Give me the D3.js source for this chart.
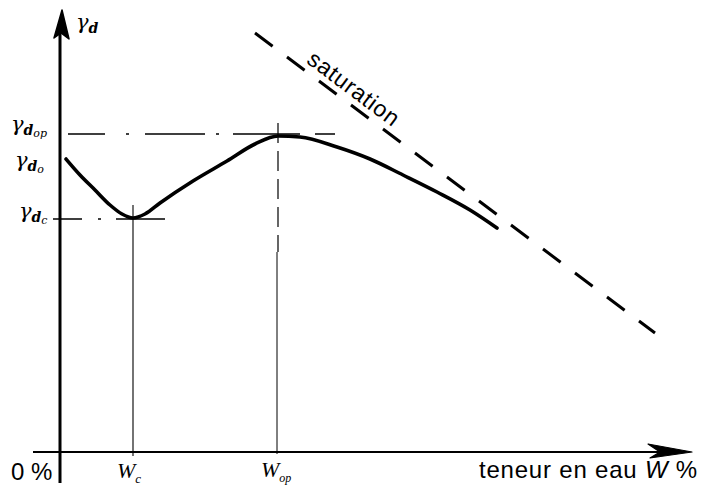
<!DOCTYPE html>
<html>
<head>
<meta charset="utf-8">
<script src="https://cdn.jsdelivr.net/npm/d3@7"></script>
<style>
  html, body { margin: 0; padding: 0; background: #fff; }
  svg { display: block; }
  .sans { font-family: "Liberation Sans", Arial, sans-serif; }
  .greek { font-family: "DejaVu Serif", "Liberation Serif", serif; font-style: italic; }
  .wlab { font-family: "Liberation Serif", serif; font-style: italic; }
</style>
</head>
<body>
<svg id="chart" width="702" height="486"></svg>
<script>
// Compaction curve: dry unit weight vs. water content (arbitrary units)
const waterContent = [1.2, 4.0, 7.0, 10.0, 12.4, 14.6, 17.0, 20.0, 26.6, 33.4, 39.0, 43.6, 48.0, 55.4, 62.0, 68.6, 75.4, 82.0, 87.4];
const dryWeight    = [58.6, 55.4, 52.4, 49.4, 47.6, 46.8, 47.6, 49.8, 54.2, 58.2, 61.6, 63.2, 63.0, 61.0, 58.6, 55.4, 52.0, 48.4, 44.8];

// Saturation line end points
const saturationW = [39.0, 119.0];
const saturationG = [83.8, 23.8];

// Characteristic values
const W_c = 14.6;        // water content at the minimum
const W_op = 43.4;       // optimum water content
const gamma_dc = 46.6;   // dry weight at the minimum
const gamma_dop = 63.6;  // maximum dry weight
const gamma_d0 = 58.6;   // dry weight of the dry soil

const svg = d3.select("#chart");
const x = d3.scaleLinear().domain([0, 126]).range([60, 690]);
const y = d3.scaleLinear().domain([0, 88]).range([452, 12]);

const x0 = x(0), y0 = y(0);

// Axes
svg.append("line").attr("x1", x0).attr("x2", x0).attr("y1", 30).attr("y2", 483)
  .attr("stroke", "#000").attr("stroke-width", 3);
svg.append("line").attr("x1", 33).attr("x2", 680).attr("y1", y0).attr("y2", y0)
  .attr("stroke", "#000").attr("stroke-width", 2);
// Arrow heads
svg.append("path")
  .attr("d", `M${x0+2},10 L${x0+9},39 L${x0+1},33 L${x0-6},38 Z`)
  .attr("fill", "#000").attr("stroke", "#000").attr("stroke-width", 1.5).attr("stroke-linejoin", "round");
svg.append("path")
  .attr("d", `M692,${y0} L648,${y0-8} L660,${y0} L650,${y0+6} Z`)
  .attr("fill", "#000").attr("stroke", "#000").attr("stroke-width", 1.2).attr("stroke-linejoin", "round");

// Guide lines
const guide = svg.append("g").attr("stroke", "#000").attr("fill", "none");
guide.append("line")
  .attr("x1", x0 + 8).attr("x2", 335).attr("y1", y(gamma_dop)).attr("y2", y(gamma_dop))
  .attr("stroke-width", 1.3).attr("stroke-dasharray", "37,21,3,16,60,11,3,14,67,15,20");
guide.append("line")
  .attr("x1", x0 - 7).attr("x2", x(W_c) + 32).attr("y1", y(gamma_dc)).attr("y2", y(gamma_dc))
  .attr("stroke-width", 1.3).attr("stroke-dasharray", "29,16,3,15,60");
guide.append("line")
  .attr("x1", x(W_c)).attr("x2", x(W_c)).attr("y1", y(gamma_dc) - 14).attr("y2", y0 + 4)
  .attr("stroke-width", 1.1);
guide.append("line")
  .attr("x1", x(W_op) + 1).attr("x2", x(W_op) + 1).attr("y1", y(gamma_dop) - 11).attr("y2", 252)
  .attr("stroke-width", 1.2).attr("stroke-dasharray", "20,8");
guide.append("line")
  .attr("x1", x(W_op)).attr("x2", x(W_op)).attr("y1", 252).attr("y2", y0 + 2)
  .attr("stroke-width", 1.0);

// Saturation line
svg.append("line")
  .attr("x1", x(saturationW[0])).attr("y1", y(saturationG[0]))
  .attr("x2", x(saturationW[1])).attr("y2", y(saturationG[1]))
  .attr("stroke", "#000").attr("stroke-width", 3).attr("stroke-dasharray", "22,18");

// Saturation label along the line
{
  const sx1 = x(saturationW[0]), sy1 = y(saturationG[0]);
  const sx2 = x(saturationW[1]), sy2 = y(saturationG[1]);
  const ang = Math.atan2(sy2 - sy1, sx2 - sx1) * 180 / Math.PI;
  const t = 0.225;
  const mx = sx1 + t * (sx2 - sx1), my = sy1 + t * (sy2 - sy1);
  svg.append("text").attr("class", "sans")
    .attr("transform", `translate(${mx},${my}) rotate(${ang}) translate(0,-7)`)
    .attr("text-anchor", "middle")
    .attr("font-size", 23).attr("letter-spacing", 0.8)
    .text("saturation");
}

// Compaction curve
const pts = waterContent.map((w, i) => [x(w), y(dryWeight[i])]);
svg.append("path")
  .attr("d", d3.line().curve(d3.curveMonotoneX)(pts))
  .attr("fill", "none").attr("stroke", "#000").attr("stroke-width", 3.6)
  .attr("stroke-linecap", "round").attr("stroke-linejoin", "round");

// Y labels
function gammaLabel(px, py, sub, subsub) {
  const t = svg.append("text").attr("class", "greek").attr("x", px).attr("y", py).attr("font-size", 21);
  t.append("tspan").text("γ");
  t.append("tspan").attr("font-size", 14).attr("dy", 4).attr("font-weight", "bold").text(sub);
  if (subsub) t.append("tspan").attr("font-size", 11).attr("dy", 2).text(subsub);
}
gammaLabel(76, 29, "d");
gammaLabel(11, y(gamma_dop) - 3, "d", "op");
gammaLabel(15, y(gamma_d0) + 8, "d", "o");
gammaLabel(19, y(gamma_dc) - 1, "d", "c");

// X labels
svg.append("text").attr("class", "sans").attr("x", 11).attr("y", 480).attr("font-size", 24).text("0 %");
{
  const t = svg.append("text").attr("class", "wlab").attr("x", x(W_c) - 16).attr("y", 478).attr("font-size", 22);
  t.append("tspan").text("W");
  t.append("tspan").attr("font-size", 13).attr("dy", 5).text("c");
}
{
  const t = svg.append("text").attr("class", "wlab").attr("x", x(W_op) - 16).attr("y", 477).attr("font-size", 22);
  t.append("tspan").text("W");
  t.append("tspan").attr("font-size", 12).attr("dy", 5).text("op");
}
{
  const t = svg.append("text").attr("class", "sans").attr("x", 698).attr("y", 478)
    .attr("text-anchor", "end").attr("font-size", 24).attr("letter-spacing", 0.8);
  t.append("tspan").text("teneur en eau ");
  t.append("tspan").attr("font-style", "italic").text("W");
  t.append("tspan").text(" %");
}
</script>
</body>
</html>
